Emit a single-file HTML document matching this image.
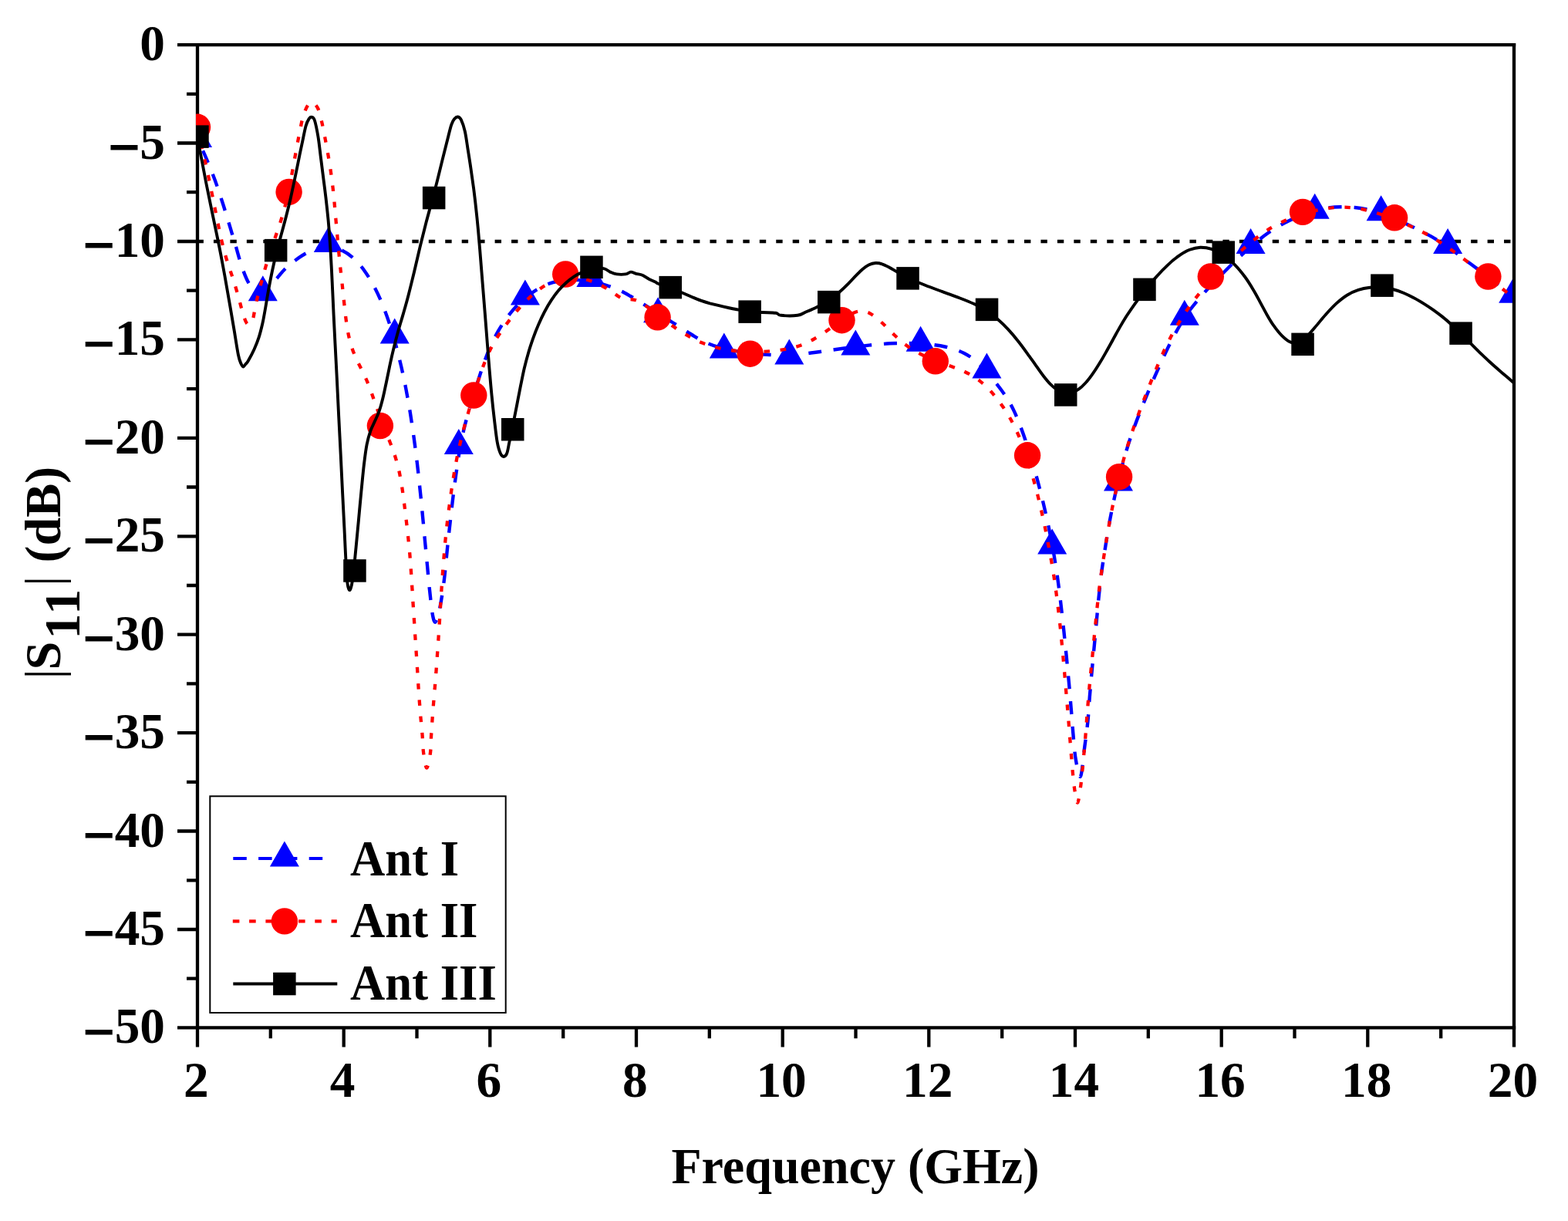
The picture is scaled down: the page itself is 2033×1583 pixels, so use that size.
<!DOCTYPE html>
<html lang="en"><head><meta charset="utf-8"><title>|S11| (dB) vs Frequency (GHz)</title>
<style>html,body{margin:0;padding:0;background:#fff}body{width:2033px;height:1583px;overflow:hidden}svg{display:block}text{font-family:'Liberation Serif',serif;font-weight:bold;font-size:66px;fill:#000}</style>
</head><body>
<svg width="2033" height="1583" viewBox="0 0 2033 1583">
<rect x="0" y="0" width="2033" height="1583" fill="#fff"/>
<defs><clipPath id="pc"><rect x="254" y="56" width="1707" height="1276"/></clipPath></defs>
<g stroke="#000" stroke-width="4.3" fill="none" stroke-linecap="butt">
<path d="M230 58.1H1965.2"/>
<path d="M230 1332.4H1965.2"/>
<path d="M256 56V1357.6"/>
<path d="M1963 56V1357.6"/>
<path d="M242 121.8H256M230 185.5H256M242 249.2H256M230 313H256M242 376.7H256M230 440.4H256M242 504.1H256M230 567.8H256M242 631.5H256M230 695.3H256M242 759H256M230 822.7H256M242 886.4H256M230 950.1H256M242 1013.8H256M230 1077.5H256M242 1141.3H256M230 1205H256M242 1268.7H256"/>
<path d="M350.8 1332.4V1346.2M445.7 1332.4V1357.6M540.5 1332.4V1346.2M635.3 1332.4V1357.6M730.2 1332.4V1346.2M825 1332.4V1357.6M919.8 1332.4V1346.2M1014.7 1332.4V1357.6M1109.5 1332.4V1346.2M1204.3 1332.4V1357.6M1299.2 1332.4V1346.2M1394 1332.4V1357.6M1488.8 1332.4V1346.2M1583.7 1332.4V1357.6M1678.5 1332.4V1346.2M1773.3 1332.4V1357.6M1868.2 1332.4V1346.2"/>
</g>
<g clip-path="url(#pc)">
<path d="M255.5 313H1963" stroke="#000" stroke-width="4.4" stroke-dasharray="8.4 13.05" fill="none"/>
<path d="M564.9 806.1C563.3 808.1 562.3 804.1 561 797.7C559.7 791.3 558.5 778.2 557.3 767.6C556.1 757 555.1 745.3 554.1 734.1C553 722.9 552 711.8 550.9 700.6C549.9 689.5 548.9 678.3 547.8 667.2C546.8 656.1 545.7 645 544.5 634C543.4 622.9 542.2 611.8 540.9 600.8C539.6 589.8 538.2 578.8 536.7 567.9C535.2 557 533.6 546.2 531.9 535.4C530.1 524.5 528.2 513.9 526.1 502.9C523.9 491.9 521.6 480.6 518.8 469.3C516.1 457.9 513.1 446 509.7 434.8C506.4 423.6 502.6 412.1 498.7 402C494.9 391.8 490.7 382.3 486.4 374C482.1 365.6 477.6 358.2 473 351.7C468.3 345.2 463.5 339.5 458.5 335C453.4 330.4 448.2 326.8 442.8 324.3C437.3 321.8 431.6 320.4 425.8 320.2C420 320 413.9 320.9 407.9 323C401.8 325.2 395.6 328.8 389.4 332.9C383.2 337 376 342.7 370.6 347.7C365.2 352.7 362.2 357.6 357.2 362.8C352.2 368.1 346.1 377.8 340.8 379.2C335.5 380.6 329.8 376.2 325.4 371.1C321 366 317.8 357.3 314.5 348.5C311.2 339.7 308.5 328.5 305.6 318.6C302.6 308.7 299.7 299 296.8 289.4C293.8 279.7 291 270.2 287.9 260.8C284.8 251.3 281.8 241.9 278.4 232.7C275 223.6 271.4 214.5 267.7 205.8C264 197 257.9 184.3 256 180" stroke="#00f" stroke-width="4.4" stroke-dasharray="17.00 16.00" stroke-dashoffset="2.50" fill="none" stroke-linejoin="round"/><path d="M564.9 806.1C566.5 804.1 568.9 794.9 570.7 786C572.5 777.1 574.4 763.6 575.8 752.5C577.2 741.4 578 730.3 579.2 719.2C580.3 708 581.4 697 582.7 685.8C583.9 674.6 585.2 663.3 586.5 651.9C587.9 640.6 589.3 628.8 590.9 617.7C592.4 606.6 594 595.5 595.7 585.5C597.5 575.5 599.3 566.4 601.2 557.8C603.1 549.3 605.2 541.9 607.4 534.2C609.5 526.6 611.9 519.3 614.2 511.9C616.4 504.5 618.7 497 621.1 489.8C623.4 482.6 625.7 475.5 628.2 468.6C630.7 461.7 633.3 455 636.3 448.5C639.2 441.9 642.5 435.4 645.9 429.4C649.3 423.4 653 417.6 656.9 412.3C660.8 407 664.8 402.2 669.1 397.6C673.4 393.1 677.9 388.8 682.8 384.9C687.7 380.9 692.8 377.1 698.5 374C704.2 370.8 710.2 368 717 366.1C723.8 364.3 731.5 363.1 739.3 362.9C747 362.6 755.9 363.5 763.7 364.6C771.4 365.7 779.3 367.8 785.8 369.8C792.4 371.7 797.7 374 803 376.4C808.3 378.7 812.4 381.1 817.5 384C822.5 386.9 827.7 390.2 833.3 393.7C839 397.2 845.4 401.3 851.3 405C857.2 408.8 863.4 412.6 868.7 416C874.1 419.3 878.8 422.3 883.2 425.1C887.5 427.8 891.2 430.3 895 432.6C898.7 435 902.1 437.2 905.8 439.3C909.4 441.3 912.8 443.2 916.9 444.9C921 446.6 924.9 448.1 930.3 449.7C935.6 451.2 941.7 452.7 948.7 454.1C955.8 455.5 964.5 456.9 972.7 457.9C980.9 458.8 990.2 459.6 998.1 460C1006 460.4 1013.5 460.3 1020.1 460.2C1026.6 460.1 1032.1 459.6 1037.4 459.1C1042.6 458.7 1047 458.1 1051.5 457.5C1056.1 457 1060.2 456.4 1064.7 455.8C1069.2 455.1 1073.6 454.5 1078.6 453.8C1083.6 453.1 1088.8 452.3 1094.6 451.5C1100.4 450.8 1106.9 449.9 1113.4 449.2C1119.9 448.4 1126.8 447.6 1133.5 446.9C1140.2 446.3 1146.9 445.7 1153.6 445.3C1160.3 445 1166.9 444.8 1173.5 444.8C1180.2 444.8 1187 445.1 1193.4 445.5C1199.7 445.9 1206.2 446.5 1211.9 447.3C1217.6 448 1222.8 449 1227.4 450C1232.1 451.1 1236 452.2 1239.8 453.6C1243.5 454.9 1246.7 456.3 1250.1 458C1253.4 459.7 1256.6 461.6 1260 463.9C1263.3 466.3 1266.7 469.1 1270.1 472.2C1273.4 475.4 1276.9 479.1 1280.2 483C1283.6 486.8 1287 491.1 1290.2 495.2C1293.4 499.3 1296.6 503.4 1299.6 507.5C1302.5 511.6 1305.2 515.5 1307.8 519.9C1310.4 524.2 1312.7 528.4 1315 533.4C1317.4 538.4 1319.6 543.7 1322 549.9C1324.4 556.1 1326.9 563 1329.5 570.7C1332 578.4 1334.8 587 1337.5 596C1340.2 604.9 1343.1 614.9 1345.6 624.4C1348.2 634 1350.7 644.1 1353 653.5C1355.2 662.8 1357.2 672 1359.1 680.6C1360.9 689.2 1362.5 697 1364 705.1C1365.5 713.2 1366.8 720.7 1368.1 729C1369.5 737.4 1370.8 746 1372 755.3C1373.3 764.7 1374.5 774.8 1375.7 785.2C1376.9 795.6 1378.1 806.6 1379.3 817.6C1380.4 828.6 1381.6 839.8 1382.7 851C1383.8 862.2 1384.8 873.4 1385.9 884.6C1386.9 895.7 1387.8 906.9 1388.7 918.1C1389.7 929.2 1390.4 940.5 1391.4 951.5C1392.4 962.5 1393.1 975 1394.7 984.2C1396.3 993.4 1399 1009.6 1400.9 1006.8" stroke="#00f" stroke-width="4.4" stroke-dasharray="17.00 15.84" stroke-dashoffset="14.50" fill="none" stroke-linejoin="round"/><path d="M1400.9 1006.8C1402.9 1004 1404.8 979.1 1406.4 967.4C1408 955.7 1409.2 947.1 1410.3 936.5C1411.4 925.9 1411.9 914.6 1412.8 903.5C1413.7 892.5 1414.7 881.4 1415.7 870.2C1416.7 859 1417.9 847.4 1418.9 836.1C1420 824.8 1421.1 813.1 1422 802.3C1423 791.5 1423.9 780.9 1424.9 771.4C1425.8 761.9 1426.8 753.4 1427.8 745.4C1428.8 737.4 1429.9 730.5 1430.9 723.4C1432 716.4 1433.1 709.8 1434.1 703.1C1435.2 696.4 1436.3 689.8 1437.5 683.2C1438.6 676.5 1439.8 670.1 1441.2 663.2C1442.5 656.3 1444 649.4 1445.7 641.8C1447.4 634.3 1449.3 626.2 1451.4 617.8C1453.5 609.4 1455.6 600.8 1458.3 591.5C1461 582.2 1463.8 572.9 1467.6 562.2C1471.4 551.4 1476.1 539.2 1481 526.9C1485.9 514.6 1492 500.2 1497.1 488.4C1502.3 476.6 1507.6 465 1511.8 456.1C1516 447.2 1519.4 440.7 1522.5 434.9C1525.6 429.1 1527.8 425.3 1530.1 421.3C1532.5 417.3 1534.3 414.3 1536.6 410.9C1538.8 407.5 1540.8 404.5 1543.5 401C1546.2 397.4 1549.1 393.8 1552.6 389.6C1556.1 385.5 1560.1 381 1564.6 376C1569.2 371.1 1574.4 365.6 1580 359.9C1585.5 354.3 1591.9 347.9 1597.9 342C1604 336.2 1610.5 330 1616.1 324.9C1621.8 319.7 1627.2 315.2 1632 311.2C1636.9 307.3 1640.9 304.3 1645.2 301.3C1649.6 298.3 1653.5 295.9 1658 293.3C1662.4 290.7 1667.1 288.1 1672.1 285.7C1677.1 283.3 1682.4 280.9 1687.7 278.8C1693.1 276.8 1698.5 274.9 1703.9 273.4C1709.4 271.9 1714.8 270.6 1720.5 269.8C1726.2 268.9 1732.1 268.4 1738.1 268.3C1744.1 268.2 1750.3 268.4 1756.4 269C1762.5 269.6 1768.6 270.6 1774.7 272C1780.8 273.4 1786.8 275.2 1793 277.4C1799.2 279.5 1805.7 282.3 1812.1 285.1C1818.5 287.9 1825.3 291.1 1831.4 294.1C1837.5 297.1 1843.4 300 1848.8 302.9C1854.2 305.7 1859 308.4 1863.6 311.2C1868.3 314 1872.5 316.8 1876.8 319.7C1881.1 322.7 1885.2 325.8 1889.4 329C1893.6 332.1 1897.7 335.3 1902.2 338.7C1906.6 342 1911.2 345.5 1916.1 349.1C1921 352.8 1926.3 356.8 1931.5 360.5C1936.8 364.3 1942.2 368.2 1947.4 371.7C1952.5 375.2 1960 379.9 1962.5 381.5" stroke="#00f" stroke-width="4.4" stroke-dasharray="17.00 16.00" stroke-dashoffset="1.50" fill="none" stroke-linejoin="round"/>
<g fill="#00f"><polygon points="256,158 237,191 275,191"/><polygon points="340.8,357.2 321.8,390.2 359.8,390.2"/><polygon points="425.8,293.9 406.8,326.9 444.8,326.9"/><polygon points="511.7,412.5 492.7,445.5 530.7,445.5"/><polygon points="594.8,556 575.8,589 613.8,589"/><polygon points="680.9,362.4 661.9,395.4 699.9,395.4"/><polygon points="766.4,338.9 747.4,371.9 785.4,371.9"/><polygon points="853.1,385.2 834.1,418.2 872.1,418.2"/><polygon points="938.8,431.5 919.8,464.5 957.8,464.5"/><polygon points="1023.3,439.6 1004.3,472.6 1042.3,472.6"/><polygon points="1109.3,427.5 1090.3,460.5 1128.3,460.5"/><polygon points="1193.6,422.8 1174.6,455.8 1212.6,455.8"/><polygon points="1279.4,457.6 1260.4,490.6 1298.4,490.6"/><polygon points="1364.2,685.4 1345.2,718.4 1383.2,718.4"/><polygon points="1450,603.4 1431,636.4 1469,636.4"/><polygon points="1535.8,388.8 1516.8,421.8 1554.8,421.8"/><polygon points="1621.6,295.9 1602.6,328.9 1640.6,328.9"/><polygon points="1704.7,250.7 1685.7,283.7 1723.7,283.7"/><polygon points="1790.6,253.2 1771.6,286.2 1809.6,286.2"/><polygon points="1877.1,295.9 1858.1,328.9 1896.1,328.9"/><polygon points="1962.2,359.8 1943.2,392.8 1981.2,392.8"/></g>
<path d="M553.2 995.6C551.7 995.3 549.9 982 549 975C548.1 968 548.2 960.7 547.6 953.5C547 946.3 546.3 939.1 545.6 932C545 924.8 544.5 917.6 543.9 910.5C543.4 903.3 542.9 896.2 542.4 889C542 881.9 541.5 874.8 541.1 867.6C540.6 860.5 540.2 853.4 539.7 846.3C539.3 839.1 538.8 832 538.3 824.8C537.8 817.6 537.4 810.4 536.9 803.2C536.4 796 536 788.7 535.5 781.5C535.1 774.3 534.7 767.1 534.2 759.9C533.8 752.7 533.3 745.6 532.8 738.5C532.3 731.3 531.8 724.2 531.2 717C530.5 709.9 529.8 702.7 529.1 695.6C528.3 688.4 527.5 681.3 526.7 674.2C525.8 667 525 659.9 524.1 652.8C523.2 645.7 522.3 638.6 521.2 631.5C520 624.4 518.9 617.3 517.3 610.3C515.7 603.3 513.9 596.5 511.6 589.6C509.4 582.6 506.6 575.8 503.7 568.4C500.9 561.1 497.6 553.3 494.7 545.6C491.7 537.8 488.8 529.4 486.1 521.8C483.4 514.3 481 506.9 478.4 500.4C475.9 493.8 473.3 488.3 470.7 482.7C468.1 477.1 465.2 472.4 462.8 466.9C460.3 461.4 457.8 455.9 455.9 449.8C453.9 443.7 452.4 437.1 451.1 430.3C449.8 423.5 448.9 416.3 448 409.2C447.1 402.1 446.4 394.8 445.7 387.6C444.9 380.4 444.1 373.2 443.4 366C442.6 358.8 441.8 351.7 441 344.6C440.3 337.4 439.6 330.3 438.9 323.2C438.2 316.1 437.6 309 437 301.9C436.3 294.7 435.7 287.6 435.1 280.5C434.5 273.4 433.9 266.2 433.2 259.1C432.5 251.9 431.8 244.8 430.9 237.6C430 230.5 429 223.3 428 216.3C426.9 209.4 425.7 202.4 424.5 195.7C423.4 189 422.1 182.5 420.9 176.1C419.6 169.8 418.5 163.6 417.1 157.7C415.7 151.8 414.3 145.1 412.4 141C410.5 136.9 407.8 134 405.7 133.1C403.6 132.2 402 132.6 399.9 135.4C397.8 138.2 395 144.4 393.2 150.2C391.4 156 390.3 163 388.8 169.9C387.4 176.8 386 184 384.6 191.8C383.1 199.6 381.7 208.2 380.1 216.6C378.5 225.1 376.9 234.3 375.2 242.6C373.5 250.9 371.8 258.8 369.8 266.5C367.8 274.2 365.8 281 363.3 288.8C360.8 296.6 357.8 304.6 354.9 313.5C351.9 322.4 348.5 332.5 345.6 342C342.7 351.6 340 361.6 337.6 370.7C335.2 379.9 332.8 389.7 331.2 396.8C329.6 403.9 329.3 409.6 327.9 413.6C326.5 417.6 324.4 420.1 322.9 420.6C321.4 421.2 320.2 420 318.7 416.9C317.2 413.8 315.4 407.6 313.7 401.8C312 396 310.2 388.4 308.4 382C306.5 375.6 304.6 369.4 302.8 363.5C300.9 357.6 298.9 352.1 297.1 346.4C295.2 340.7 293.4 335.3 291.8 329.5C290.2 323.7 288.7 317.7 287.2 311.4C285.7 305.1 284.4 298.5 283 291.7C281.6 285 280.2 278 278.8 271C277.4 263.9 276.1 257 274.5 249.6C273 242.2 271.5 234.9 269.7 226.4C267.9 217.9 265.8 208.6 263.5 198.5C261.2 188.3 257.3 171.2 256 165.7" stroke="#f00" stroke-width="4.3" stroke-dasharray="7.50 13.80" stroke-dashoffset="3.75" fill="none" stroke-linejoin="round"/><path d="M553.2 995.6C554.7 995.9 556.9 983.2 557.9 976.6C558.9 970 558.6 962.8 559 955.7C559.4 948.6 559.9 941.4 560.4 934.3C560.9 927.2 561.4 920.1 562 913C562.6 905.8 563.2 898.7 563.8 891.6C564.3 884.5 564.9 877.4 565.5 870.2C566 863.1 566.5 855.9 567 848.8C567.5 841.6 568 834.5 568.5 827.3C568.9 820.2 569.4 813 569.9 805.8C570.3 798.6 570.8 791.3 571.2 784C571.7 776.7 572.1 769.4 572.6 762.1C573.1 754.9 573.6 747.6 574.1 740.5C574.6 733.3 575.2 726.2 575.8 719.1C576.4 712 577 704.9 577.7 697.8C578.4 690.6 579.2 683.4 580 676.3C580.9 669.1 581.8 661.9 582.7 654.8C583.7 647.6 584.6 640.6 585.7 633.3C586.8 626 587.9 618.6 589.3 610.7C590.7 602.9 592.2 594.5 594 586.1C595.9 577.7 598 568.7 600.1 560.3C602.3 551.9 604.7 543.5 607 535.5C609.3 527.4 611.7 519.7 614.1 512.1C616.5 504.5 618.8 496.9 621.2 489.8C623.6 482.7 626 475.8 628.5 469.5C630.9 463.3 633.5 457.6 636.1 452.3C638.8 447 641.5 442.5 644.4 437.9C647.2 433.3 650.3 429.1 653.4 424.7C656.5 420.4 659.8 416 663.2 411.7C666.6 407.4 670.1 403.1 673.7 399C677.2 395 680.9 391.1 684.7 387.5C688.4 383.9 692.2 380.6 696 377.6C699.9 374.6 703.6 371.8 707.7 369.5C711.9 367.1 715.9 364.9 720.8 363.3C725.7 361.8 731.1 360.5 736.9 360.1C742.7 359.8 749.3 360.2 755.5 361.4C761.7 362.6 768.3 364.9 774.2 367.4C780.1 370 785.6 373.4 791 376.6C796.3 379.8 800.6 384.5 806.2 386.6C811.8 388.7 819.1 387.3 824.7 389.3C830.3 391.3 834.4 394.6 840 398.5C845.6 402.4 852 408 858.1 412.5C864.2 417 870.4 421.6 876.4 425.6C882.3 429.6 888.2 433.3 893.9 436.5C899.6 439.6 904.8 442.2 910.6 444.6C916.4 446.9 922 448.8 928.6 450.5C935.2 452.1 942.2 453.5 950 454.5C957.7 455.4 966.5 456.1 975 456.2C983.5 456.3 992.7 455.9 1000.7 455.2C1008.7 454.5 1016.3 453.3 1022.9 452C1029.4 450.6 1034.8 449 1040.1 447C1045.3 445 1049.7 442.8 1054.7 440C1059.7 437.2 1064.8 433.8 1070.1 430.2C1075.4 426.6 1081.3 422.2 1086.6 418.6C1091.8 415 1096.9 411.1 1101.4 408.6C1105.8 406 1109.5 404.1 1113.3 403.5C1117 402.8 1120.2 403.2 1123.8 404.4C1127.4 405.7 1131 408 1134.8 410.8C1138.6 413.6 1142.5 417.4 1146.5 421.2C1150.6 425 1154.5 429.5 1159 433.7C1163.5 438 1168.1 442.5 1173.4 446.5C1178.8 450.6 1184.8 454.5 1191.2 457.9C1197.6 461.3 1204.9 464.3 1211.7 467.1C1218.5 469.9 1225.7 472.1 1232.1 474.5C1238.6 477 1244.6 479.1 1250.2 481.7C1255.7 484.3 1260.7 487.1 1265.5 490.3C1270.3 493.6 1274.6 497.3 1278.7 501.2C1282.9 505.2 1286.7 509.6 1290.3 514C1293.9 518.3 1297.3 522.9 1300.4 527.5C1303.6 532.1 1306.4 536.7 1309.2 541.5C1312 546.3 1314.5 551.1 1317 556.5C1319.6 562 1322.1 567.6 1324.6 574.1C1327.1 580.6 1329.7 588 1332.1 595.5C1334.6 603.1 1337.1 611.5 1339.3 619.3C1341.6 627.2 1343.7 635.2 1345.6 642.7C1347.5 650.3 1349.1 657.4 1350.7 664.5C1352.3 671.5 1353.8 678.3 1355.2 685.1C1356.6 691.9 1357.8 698.5 1359.1 705.3C1360.4 712.1 1361.7 718.6 1362.9 725.8C1364.2 733 1365.4 740.2 1366.6 748.3C1367.8 756.4 1369.1 765.4 1370.2 774.4C1371.4 783.5 1372.5 793.6 1373.6 802.8C1374.6 811.9 1375.5 821.1 1376.3 829.5C1377.1 837.9 1377.8 845.5 1378.5 853C1379.2 860.6 1379.8 867.5 1380.4 874.7C1381 881.9 1381.6 889 1382.2 896.1C1382.8 903.2 1383.4 910.4 1384 917.5C1384.6 924.6 1385.2 931.8 1385.8 939C1386.4 946.1 1386.9 953.3 1387.5 960.5C1388 967.6 1388.6 974.8 1389.2 981.9C1389.8 989.1 1390.3 996.3 1391 1003.4C1391.7 1010.5 1392.4 1018.1 1393.4 1024.3C1394.4 1030.5 1395.9 1041.4 1397.2 1040.6" stroke="#f00" stroke-width="4.3" stroke-dasharray="7.50 13.72" stroke-dashoffset="3.75" fill="none" stroke-linejoin="round"/><path d="M1397.2 1040.6C1398.5 1039.8 1400.1 1026.7 1401.1 1019.7C1402.1 1012.7 1402.7 1005.5 1403.4 998.4C1404.1 991.3 1404.8 984.1 1405.4 976.9C1406.1 969.8 1406.7 962.6 1407.3 955.5C1407.9 948.4 1408.4 941.3 1408.9 934.2C1409.5 927.1 1410 919.9 1410.6 912.8C1411.2 905.7 1411.8 898.6 1412.4 891.5C1413 884.3 1413.7 877.3 1414.4 870.1C1415.1 862.9 1415.8 855.9 1416.6 848.4C1417.3 840.9 1418 833.3 1418.8 825C1419.6 816.7 1420.5 807.7 1421.4 798.7C1422.3 789.7 1423.3 779.9 1424.3 771.1C1425.4 762.2 1426.5 753.5 1427.6 745.6C1428.7 737.7 1429.8 730.6 1430.9 723.5C1432 716.4 1433 709.9 1434.1 703.1C1435.2 696.4 1436.3 689.8 1437.5 683.1C1438.7 676.3 1439.9 669.6 1441.3 662.5C1442.7 655.3 1444.3 648 1446 640.1C1447.8 632.3 1449.7 624 1451.7 615.6C1453.8 607.2 1455.9 598.8 1458.5 589.8C1461.1 580.8 1463.8 572 1467.4 561.5C1471 551 1475.3 539 1479.9 526.8C1484.5 514.6 1490.1 500.2 1494.9 488.4C1499.7 476.6 1504.6 465.1 1508.7 456C1512.8 446.9 1516.2 440.3 1519.5 434C1522.8 427.7 1525.6 423.2 1528.6 418.1C1531.7 413.1 1534.5 408.6 1537.8 403.8C1541 399.1 1544.2 394.4 1547.9 389.6C1551.5 384.7 1555.4 379.9 1559.8 374.7C1564.2 369.5 1569.1 364.1 1574.5 358.4C1579.9 352.8 1586.1 346.7 1592 341.1C1597.9 335.4 1604.3 329.5 1609.9 324.5C1615.6 319.5 1620.9 315 1625.8 311.1C1630.7 307.2 1634.8 304.1 1639.3 301C1643.9 297.9 1647.9 295.4 1653.1 292.6C1658.2 289.8 1663.7 287.1 1670 284.5C1676.4 281.9 1683.8 279.1 1691.2 276.9C1698.5 274.7 1706.7 272.5 1714.2 271.2C1721.8 269.8 1729.1 268.9 1736.5 268.6C1743.8 268.4 1750.7 268.8 1758.2 269.9C1765.6 270.9 1773.4 272.8 1781.4 275.1C1789.5 277.4 1798.3 280.6 1806.3 283.7C1814.4 286.8 1822.6 290.4 1829.6 293.6C1836.7 296.9 1842.9 300 1848.6 303C1854.2 306.1 1858.9 308.8 1863.6 311.8C1868.4 314.7 1872.5 317.6 1876.8 320.5C1881.1 323.5 1885.2 326.5 1889.4 329.6C1893.6 332.6 1897.7 335.6 1902.2 338.9C1906.6 342.2 1911.2 345.5 1916.1 349.2C1921 353 1926.3 357.1 1931.5 361.2C1936.8 365.3 1942.2 369.7 1947.4 373.9C1952.5 378.2 1960 384.4 1962.5 386.5" stroke="#f00" stroke-width="4.3" stroke-dasharray="7.50 13.80" stroke-dashoffset="1.75" fill="none" stroke-linejoin="round"/>
<g fill="#f00"><circle cx="256" cy="164.8" r="17.2"/><circle cx="374.6" cy="248.9" r="17.2"/><circle cx="492.9" cy="552" r="17.2"/><circle cx="614.3" cy="512.5" r="17.2"/><circle cx="733.2" cy="355.5" r="17.2"/><circle cx="852.6" cy="411.3" r="17.2"/><circle cx="972.6" cy="458.7" r="17.2"/><circle cx="1091.5" cy="415.2" r="17.2"/><circle cx="1212.8" cy="468.3" r="17.2"/><circle cx="1332.1" cy="590.3" r="17.2"/><circle cx="1451.1" cy="618.2" r="17.2"/><circle cx="1569.8" cy="358.5" r="17.2"/><circle cx="1689" cy="274.9" r="17.2"/><circle cx="1808.1" cy="282.3" r="17.2"/><circle cx="1929.4" cy="358.5" r="17.2"/></g>
<path d="M256 178C256.9 183 259.7 198.1 261.7 208.1C263.6 218.1 265.5 228.3 267.4 238C269.4 247.8 271.4 257.6 273.3 266.8C275.2 276.1 277 284.8 278.8 293.3C280.6 301.8 282.2 309.7 283.9 318C285.6 326.4 287.2 334.7 288.8 343.5C290.5 352.4 292.2 361.7 293.8 371.2C295.5 380.7 297.2 390.5 298.9 400.4C300.6 410.2 302.3 420.2 304 430.3C305.6 440.3 307.6 453.5 309 460.4C310.4 467.3 311.4 469 312.5 471.5C313.6 474 314.4 475.4 315.4 475.5C316.4 475.6 317.4 473.2 318.5 472C319.6 470.8 319.9 471.1 321.7 468C323.5 464.9 327.1 458.4 329.4 453.3C331.7 448.1 333.9 442.8 335.7 437.1C337.6 431.3 339 425.2 340.5 418.8C341.9 412.4 343 405.6 344.3 398.5C345.5 391.3 346.7 383.8 348.1 376.1C349.5 368.3 351.1 360.1 352.8 352C354.5 343.8 356.5 335.4 358.6 327.3C360.6 319.2 362.8 311.1 364.9 303.3C367 295.5 369.1 288.1 371 280.6C372.9 273.1 374.7 265.8 376.5 258.3C378.2 250.7 379.8 243 381.5 235.1C383.2 227.2 384.8 218.8 386.5 210.8C388.1 202.7 389.8 194.5 391.5 186.7C393.2 178.8 395 169.1 396.5 163.6C398 158.1 399.4 155.9 400.7 153.9C401.9 151.9 402.8 151.5 404 151.8C405.2 152.2 406.5 151.8 407.9 156C409.3 160.2 411 168.8 412.4 177C413.8 185.2 414.8 195.8 416 205.1C417.2 214.4 418.4 223.7 419.5 232.7C420.7 241.7 421.8 250.4 422.8 259.2C423.8 268.1 424.7 276.6 425.6 285.6C426.4 294.7 427.2 304.1 427.8 313.8C428.5 323.4 429.1 333.6 429.6 343.8C430.2 354 430.6 364.2 431.1 374.9C431.6 385.5 432.1 396 432.6 407.8C433.2 419.6 433.8 431.9 434.5 445.7C435.2 459.4 436 474.6 436.8 490.3C437.5 506 438.4 523.1 439.2 539.9C440.1 556.7 440.9 574.3 441.8 591.1C442.6 607.9 443.4 624.8 444.2 640.7C445 656.5 445.8 671.6 446.5 686.1C447.2 700.5 447.8 715.8 448.5 727.4C449.2 739 449.6 749.5 450.4 755.8C451.2 762.1 452.2 764.8 453.2 765.1C454.1 765.4 455.2 761.7 456.1 757.5C457 753.3 457.7 747.9 458.6 739.9C459.5 731.9 460.5 720.4 461.6 709.5C462.6 698.7 463.7 686.8 464.9 674.8C466 662.7 467.2 649.1 468.4 637.1C469.6 625 470.7 612.6 471.9 602.5C473.1 592.3 474.2 583.5 475.6 576.3C477 569 478.6 563.9 480.3 558.9C482.1 553.8 484.2 550.4 486 546.1C487.9 541.8 489.9 537.9 491.6 533.1C493.3 528.2 494.7 523 496.2 517C497.7 511.1 499 504.4 500.5 497.5C502 490.5 503.5 482.8 505.1 475.2C506.7 467.6 508.5 459.5 510.4 451.8C512.3 444 514.3 436.4 516.4 428.9C518.5 421.3 520.7 414.4 522.9 406.6C525.1 398.9 527.3 391.4 529.6 382.4C532 373.5 534.3 363.5 536.9 353C539.4 342.6 542.1 330.6 544.7 319.6C547.4 308.7 550.2 297.4 552.8 287.3C555.5 277.2 558.1 268 560.4 259C562.8 250 565 241.8 567.2 233.3C569.3 224.9 571.3 216.6 573.3 208.4C575.3 200.3 577.3 192.3 579.3 184.6C581.3 176.8 583.5 167 585.2 161.9C586.9 156.8 588 155.6 589.4 153.9C590.8 152.2 592.2 151.3 593.6 151.5C595 151.7 596.3 152.1 597.8 155.2C599.3 158.3 601.3 163.8 602.8 170.3C604.3 176.8 605.4 186.1 606.7 194.1C608 202.2 609.3 210.3 610.5 218.7C611.7 227.1 612.9 235.6 614.1 244.3C615.2 253 616.3 261.9 617.2 270.8C618.2 279.6 619.1 288.6 619.9 297.3C620.7 306 621.4 314.5 622.1 322.9C622.8 331.4 623.4 339.3 624.1 348C624.8 356.7 625.5 365.4 626.3 375.3C627.1 385.3 628 396.3 628.9 407.7C629.8 419.1 630.8 431.8 631.7 443.7C632.7 455.7 633.6 467.9 634.6 479.5C635.6 491 636.5 502.2 637.6 513C638.6 523.7 639.7 533.8 640.9 543.8C642.1 553.8 643.3 565.4 644.6 572.7C645.9 580 647.4 584.6 648.8 587.8C650.2 591 651.6 592 653 592C654.4 592 656 591 657.2 587.8C658.5 584.6 659.1 579.1 660.5 572.7C661.9 566.3 663.7 557.6 665.3 549.7C666.9 541.7 668.6 533.2 670.2 525C671.8 516.7 673.4 508.1 675 500.2C676.6 492.4 678.1 484.8 679.7 477.8C681.4 470.7 683.1 464.2 685 457.7C686.8 451.3 688.9 445.1 691 439.1C693.2 433 695.5 427 698 421.3C700.5 415.5 703.1 409.8 705.9 404.5C708.7 399.1 711.6 394 714.7 389.4C717.8 384.7 721 380.4 724.2 376.6C727.5 372.8 730.7 369.5 734.1 366.5C737.4 363.5 740.7 360.9 744.2 358.6C747.8 356.3 751.4 354.4 755.4 352.9C759.4 351.4 763.8 350.4 768.3 349.6C772.9 348.8 778.9 347.6 782.7 348.1C786.5 348.6 788.3 351.4 791.1 352.6C793.9 353.8 796.1 354.9 799.5 355.4C802.9 355.9 808.1 355.9 811.2 355.4C814.3 354.9 815.7 352.7 817.9 352.6C820.1 352.5 822.1 354.1 824.6 354.8C827.1 355.5 830.1 355.6 832.9 356.8C835.7 358 838.5 360.4 841.3 361.8C844.1 363.2 847.7 364.5 849.7 365.5C851.7 366.5 850.2 366.5 853.4 367.8C856.6 369.1 863.8 371.3 868.8 373.2C873.8 375.1 878.7 377 883.3 379C887.9 380.9 892.2 382.9 896.4 384.7C900.7 386.5 904.6 388.2 908.6 389.7C912.6 391.1 916.5 392.3 920.4 393.4C924.3 394.4 928.2 395.3 932.2 396.2C936.2 397.2 940.1 398.1 944.4 399C948.6 399.9 953 400.9 957.7 401.7C962.4 402.5 967.3 403.2 972.5 403.7C977.6 404.3 983.1 404.6 988.7 405C994.3 405.3 1001.8 405.2 1005.8 405.8C1009.8 406.4 1007.8 408.3 1012.5 408.8C1017.2 409.3 1028.9 409.5 1034.2 408.8C1039.5 408.1 1040.1 406.5 1044.3 404.7C1048.5 402.9 1054.4 400.5 1059.4 397.9C1064.4 395.3 1069.5 392.5 1074.2 389.3C1079 386.1 1083.7 382.5 1088 378.9C1092.2 375.3 1096.2 371.4 1099.8 367.8C1103.4 364.2 1106.6 360.5 1109.7 357.4C1112.8 354.2 1115.6 351.2 1118.4 348.9C1121.3 346.5 1124 344.5 1126.8 343.2C1129.6 341.9 1132.4 341.2 1135.2 341C1138 340.9 1140.8 341.3 1143.7 342.3C1146.7 343.2 1149.6 344.9 1153.1 346.7C1156.6 348.6 1160.3 351 1164.8 353.5C1169.2 355.9 1174.2 358.7 1180 361.4C1185.7 364.1 1192.5 367 1199.5 369.8C1206.4 372.6 1214.5 375.4 1221.9 378.1C1229.3 380.9 1237.1 383.5 1243.9 386.2C1250.8 388.8 1257.1 391.3 1263 394.1C1268.8 397 1274 399.8 1279.1 403.1C1284.2 406.4 1289 410 1293.7 414C1298.3 418 1302.8 422.4 1307.2 427.1C1311.6 431.8 1315.9 437 1320 442.2C1324.2 447.4 1328.2 453 1332 458.3C1335.9 463.6 1339.6 469 1343.1 473.8C1346.5 478.7 1349.7 483.4 1352.9 487.5C1356.1 491.6 1359.1 495.4 1362.2 498.4C1365.3 501.5 1368.4 504.1 1371.5 505.9C1374.6 507.7 1377.8 508.8 1380.9 509.3C1384 509.8 1387.1 509.5 1390.1 508.7C1393 507.9 1395.9 506.4 1398.8 504.4C1401.7 502.4 1404.5 499.7 1407.4 496.5C1410.4 493.4 1413.3 489.5 1416.2 485.4C1419.2 481.3 1422.2 476.6 1425.1 471.8C1428.1 467 1431.1 461.8 1434 456.6C1437 451.4 1439.9 446 1442.8 440.7C1445.7 435.5 1448.5 430.2 1451.4 425.1C1454.4 419.9 1457.3 415 1460.6 409.8C1464 404.6 1467.5 399.4 1471.5 393.8C1475.5 388.2 1480 382.2 1484.6 376.3C1489.3 370.4 1494.5 364.1 1499.5 358.6C1504.5 353 1509.7 347.6 1514.6 343.1C1519.5 338.5 1524.3 334.5 1528.9 331.3C1533.6 328.1 1538 325.5 1542.5 323.8C1547.1 322 1551.5 320.9 1556.2 320.7C1560.9 320.6 1565.8 321.2 1570.8 322.8C1575.7 324.5 1581 327.2 1586 330.6C1591 334 1596.1 338.5 1600.8 343.2C1605.5 347.9 1609.9 353.4 1614 358.8C1618 364.2 1621.5 369.9 1624.8 375.5C1628.2 381 1631.1 386.7 1634 392.1C1637 397.5 1639.7 402.9 1642.6 407.9C1645.5 413 1648.4 418 1651.6 422.4C1654.8 426.9 1658.1 431.2 1661.5 434.6C1664.9 438.1 1668.5 441.2 1671.9 442.9C1675.3 444.6 1678.5 445.4 1682 444.7C1685.4 443.9 1688.6 441.7 1692.4 438.4C1696.1 435.1 1700.1 430 1704.4 425C1708.8 420 1713.6 413.7 1718.3 408.5C1723 403.2 1728 397.7 1732.7 393.4C1737.5 389.1 1742.1 385.4 1746.9 382.5C1751.6 379.6 1756.3 377.5 1761.2 375.9C1766.1 374.3 1771.1 373.4 1776.2 372.8C1781.2 372.2 1786.3 372.2 1791.3 372.6C1796.2 372.9 1801.1 373.8 1805.8 375C1810.6 376.2 1815.2 377.8 1819.7 379.7C1824.3 381.6 1828.8 383.9 1833.2 386.3C1837.7 388.6 1842.1 391.3 1846.3 393.9C1850.5 396.5 1854.5 399.2 1858.4 401.9C1862.3 404.7 1866 407.4 1869.8 410.4C1873.7 413.5 1877.5 416.8 1881.5 420.5C1885.5 424.1 1889.8 428.2 1894 432.3C1898.2 436.4 1902.5 440.9 1906.7 445.1C1910.9 449.3 1915.1 453.6 1919.2 457.6C1923.3 461.5 1927.4 465.4 1931.3 469C1935.2 472.6 1939.1 476 1942.8 479.2C1946.4 482.4 1949.8 485.3 1953.1 488.1C1956.4 490.9 1960.9 494.8 1962.5 496.2" stroke="#000" stroke-width="3.9" fill="none" stroke-linejoin="round"/>
<g fill="#000"><rect x="241.2" y="162.4" width="29.5" height="29.5"/><rect x="342.9" y="309.9" width="29.5" height="29.5"/><rect x="445.2" y="725.2" width="29.5" height="29.5"/><rect x="547.9" y="241.8" width="29.5" height="29.5"/><rect x="650" y="542" width="29.5" height="29.5"/><rect x="752.2" y="331.6" width="29.5" height="29.5"/><rect x="854.5" y="357.9" width="29.5" height="29.5"/><rect x="957.4" y="389.4" width="29.5" height="29.5"/><rect x="1060" y="376.9" width="29.5" height="29.5"/><rect x="1162.3" y="346.1" width="29.5" height="29.5"/><rect x="1264.8" y="386.6" width="29.5" height="29.5"/><rect x="1367" y="497.2" width="29.5" height="29.5"/><rect x="1469.2" y="360.6" width="29.5" height="29.5"/><rect x="1571.5" y="312.4" width="29.5" height="29.5"/><rect x="1674.3" y="431.6" width="29.5" height="29.5"/><rect x="1777.2" y="355.4" width="29.5" height="29.5"/><rect x="1879.3" y="417.4" width="29.5" height="29.5"/></g>
</g>
<rect x="272.3" y="1032.3" width="383.4" height="280.7" fill="#fff" stroke="#000" stroke-width="2"/>
<path d="M302.3 1113H420" stroke="#00f" stroke-width="4.2" stroke-dasharray="17.5 15.3" fill="none"/>
<g fill="#00f"><polygon points="368.9,1090.6 349.9,1123.6 387.9,1123.6"/></g>
<path d="M301.8 1194.4H436.8" stroke="#f00" stroke-width="4.2" stroke-dasharray="8.6 12.7" fill="none"/>
<g fill="#f00"><circle cx="368.9" cy="1194.4" r="17.2"/></g>
<path d="M302.3 1275.5H437.3" stroke="#000" stroke-width="4.2" fill="none"/>
<g fill="#000"><rect x="354.1" y="1260.8" width="29.5" height="29.5"/></g>
<text transform="translate(454 1135.2) scale(0.950 1)" text-anchor="start">Ant I</text>
<text transform="translate(454 1215) scale(0.950 1)" text-anchor="start">Ant II</text>
<text transform="translate(454 1295.6) scale(0.950 1)" text-anchor="start">Ant III</text>
<text transform="translate(214 78.1) scale(0.990 1)" text-anchor="end">0</text>
<text text-anchor="end"><tspan x="181.3" y="212.9" stroke="#000" stroke-width="1.8" textLength="40.6" lengthAdjust="spacingAndGlyphs">−</tspan><tspan x="214" y="205.5" textLength="32.7" lengthAdjust="spacingAndGlyphs">5</tspan></text>
<text text-anchor="end"><tspan x="148.7" y="340.4" stroke="#000" stroke-width="1.8" textLength="40.6" lengthAdjust="spacingAndGlyphs">−</tspan><tspan x="214" y="333" textLength="65.3" lengthAdjust="spacingAndGlyphs">10</tspan></text>
<text text-anchor="end"><tspan x="148.7" y="467.8" stroke="#000" stroke-width="1.8" textLength="40.6" lengthAdjust="spacingAndGlyphs">−</tspan><tspan x="214" y="460.4" textLength="65.3" lengthAdjust="spacingAndGlyphs">15</tspan></text>
<text text-anchor="end"><tspan x="148.7" y="595.2" stroke="#000" stroke-width="1.8" textLength="40.6" lengthAdjust="spacingAndGlyphs">−</tspan><tspan x="214" y="587.8" textLength="65.3" lengthAdjust="spacingAndGlyphs">20</tspan></text>
<text text-anchor="end"><tspan x="148.7" y="722.7" stroke="#000" stroke-width="1.8" textLength="40.6" lengthAdjust="spacingAndGlyphs">−</tspan><tspan x="214" y="715.3" textLength="65.3" lengthAdjust="spacingAndGlyphs">25</tspan></text>
<text text-anchor="end"><tspan x="148.7" y="850.1" stroke="#000" stroke-width="1.8" textLength="40.6" lengthAdjust="spacingAndGlyphs">−</tspan><tspan x="214" y="842.7" textLength="65.3" lengthAdjust="spacingAndGlyphs">30</tspan></text>
<text text-anchor="end"><tspan x="148.7" y="977.5" stroke="#000" stroke-width="1.8" textLength="40.6" lengthAdjust="spacingAndGlyphs">−</tspan><tspan x="214" y="970.1" textLength="65.3" lengthAdjust="spacingAndGlyphs">35</tspan></text>
<text text-anchor="end"><tspan x="148.7" y="1104.9" stroke="#000" stroke-width="1.8" textLength="40.6" lengthAdjust="spacingAndGlyphs">−</tspan><tspan x="214" y="1097.5" textLength="65.3" lengthAdjust="spacingAndGlyphs">40</tspan></text>
<text text-anchor="end"><tspan x="148.7" y="1232.4" stroke="#000" stroke-width="1.8" textLength="40.6" lengthAdjust="spacingAndGlyphs">−</tspan><tspan x="214" y="1225" textLength="65.3" lengthAdjust="spacingAndGlyphs">45</tspan></text>
<text text-anchor="end"><tspan x="148.7" y="1359.8" stroke="#000" stroke-width="1.8" textLength="40.6" lengthAdjust="spacingAndGlyphs">−</tspan><tspan x="214" y="1352.4" textLength="65.3" lengthAdjust="spacingAndGlyphs">50</tspan></text>
<text transform="translate(254.4 1421.8) scale(0.990 1)" text-anchor="middle">2</text>
<text transform="translate(444.1 1421.8) scale(0.990 1)" text-anchor="middle">4</text>
<text transform="translate(633.7 1421.8) scale(0.990 1)" text-anchor="middle">6</text>
<text transform="translate(823.4 1421.8) scale(0.990 1)" text-anchor="middle">8</text>
<text transform="translate(1013.1 1421.8) scale(0.990 1)" text-anchor="middle">10</text>
<text transform="translate(1202.7 1421.8) scale(0.990 1)" text-anchor="middle">12</text>
<text transform="translate(1392.4 1421.8) scale(0.990 1)" text-anchor="middle">14</text>
<text transform="translate(1582.1 1421.8) scale(0.990 1)" text-anchor="middle">16</text>
<text transform="translate(1771.7 1421.8) scale(0.990 1)" text-anchor="middle">18</text>
<text transform="translate(1961.4 1421.8) scale(0.990 1)" text-anchor="middle">20</text>
<text transform="translate(1109 1534) scale(0.970 1)" text-anchor="middle">Frequency (GHz)</text>
<text transform="translate(77.5 0) rotate(-90)"><tspan x="-880.5" y="0" style="font-weight:normal">|</tspan><tspan x="-868.5" y="0">S</tspan><tspan x="-828.5" y="25.5" style="letter-spacing:2.5px">11</tspan><tspan x="-760" y="0" style="font-weight:normal">|</tspan><tspan x="-746" y="0"> </tspan><tspan x="-729.5" y="0">(dB)</tspan></text>
</svg></body></html>
